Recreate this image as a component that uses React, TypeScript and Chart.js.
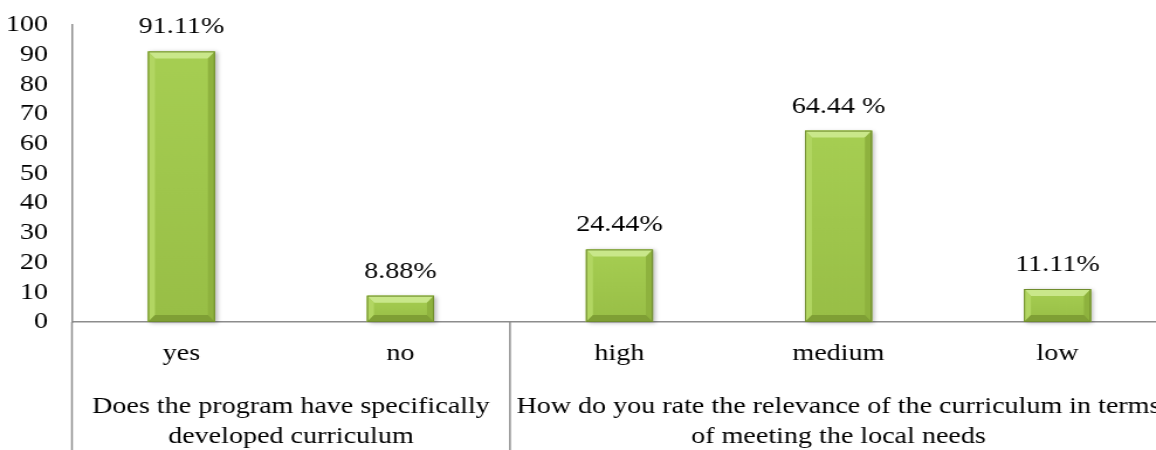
import React, { useEffect, useRef } from "react";
import { Chart, registerables } from "chart.js";

Chart.register(...registerables);

// ---- data ----
const categories = ["yes", "no", "high", "medium", "low"];
const values = [91.11, 8.88, 24.44, 64.44, 11.11];
const valueLabels = ["91.11%", "8.88%", "24.44%", "64.44 %", "11.11%"];
const groupSizes = [2, 3];
const groupLines = [
  ["Does the program have specifically", "developed curriculum"],
  ["How do you rate the relevance of the curriculum in terms", "of meeting the local needs"],
];
const yMin = 0;
const yMax = 100;
const yStep = 10;

// ---- layout / style ----
const STRETCH = 1.17;
const CANVAS_W = 1010;
const CANVAS_H = 450;
const FONT_FAMILY = '"Liberation Serif", "Times New Roman", serif';
const FONT_SIZE = 24;
const AXIS_COLOR = "#8c8c8c";
const FACE = "#A2C94E";

const bevelPlugin = {
  id: "bevelBars",
  afterDatasetsDraw(chart: any) {
    const ctx = chart.ctx;
    const meta = chart.getDatasetMeta(0);
    meta.data.forEach((el: any) => {
      const p = el.getProps(["x", "y", "base", "width"], true);
      const l = p.x - p.width / 2;
      const r = p.x + p.width / 2;
      const t = Math.min(p.y, p.base);
      const b = Math.max(p.y, p.base);
      const bx = 6;
      const by = 7;
      ctx.save();
      ctx.shadowColor = "rgba(0,0,0,0.28)";
      ctx.shadowBlur = 4;
      ctx.shadowOffsetX = 2;
      ctx.shadowOffsetY = 1;
      const g = ctx.createLinearGradient(0, t, 0, b);
      g.addColorStop(0, "#A6CE52");
      g.addColorStop(1, "#98BE46");
      ctx.fillStyle = g;
      ctx.fillRect(l, t, r - l, b - t);
      ctx.shadowColor = "transparent";
      ctx.shadowBlur = 0;
      ctx.shadowOffsetX = 0;
      ctx.shadowOffsetY = 0;
      const poly = (pts: number[][], color: string) => {
        ctx.beginPath();
        ctx.moveTo(pts[0][0], pts[0][1]);
        for (let i = 1; i < pts.length; i++) ctx.lineTo(pts[i][0], pts[i][1]);
        ctx.closePath();
        ctx.fillStyle = color;
        ctx.fill();
      };
      poly([[l, t], [r, t], [r - bx, t + by], [l + bx, t + by]], "#C9E78A");
      poly([[l, t], [l + bx, t + by], [l + bx, b - by], [l, b]], "#B2D662");
      poly([[r, t], [r - bx, t + by], [r - bx, b - by], [r, b]], "#8EB23E");
      poly([[l, b], [l + bx, b - by], [r - bx, b - by], [r, b]], "#7F9F35");
      ctx.strokeStyle = "#6F8C2D";
      ctx.lineWidth = 1;
      ctx.strokeRect(l + 0.5, t + 0.5, r - l - 1, b - t - 1);
      ctx.restore();
    });
    ctx.save();
    ctx.font = `${FONT_SIZE}px ${FONT_FAMILY}`;
    ctx.fillStyle = "#000";
    ctx.textAlign = "center";
    ctx.textBaseline = "alphabetic";
    meta.data.forEach((el: any, i: number) => {
      const p = el.getProps(["x", "y"], true);
      ctx.fillText(valueLabels[i], p.x, p.y - 18);
    });
    ctx.restore();
  },
};

const groupPlugin = {
  id: "groupAxis",
  afterDraw(chart: any) {
    const ctx = chart.ctx;
    const xs = chart.scales.x;
    const area = chart.chartArea;
    const half = (xs.getPixelForValue(1) - xs.getPixelForValue(0)) / 2;
    ctx.save();
    ctx.strokeStyle = AXIS_COLOR;
    ctx.lineWidth = 1.5;
    ctx.font = `${FONT_SIZE}px ${FONT_FAMILY}`;
    ctx.fillStyle = "#000";
    ctx.textAlign = "center";
    ctx.textBaseline = "alphabetic";
    let start = 0;
    const drawLine = (x: number) => {
      ctx.beginPath();
      ctx.moveTo(x, area.bottom);
      ctx.lineTo(x, chart.height);
      ctx.stroke();
    };
    groupSizes.forEach((n, gi) => {
      const x0 = xs.getPixelForValue(start) - half;
      const x1 = xs.getPixelForValue(start + n - 1) + half;
      drawLine(x0);
      if (gi === groupSizes.length - 1) drawLine(x1);
      const cx = (x0 + x1) / 2;
      groupLines[gi].forEach((line, li) => {
        ctx.fillText(line, cx, area.bottom + 91 + li * 30);
      });
      start += n;
    });
    ctx.restore();
  },
};

export default function App() {
  const ref = useRef<HTMLCanvasElement>(null);
  useEffect(() => {
    if (!ref.current) return;
    const chart = new Chart(ref.current, {
      type: "bar",
      data: {
        labels: categories,
        datasets: [
          {
            data: values,
            backgroundColor: FACE,
            borderWidth: 0,
            categoryPercentage: 1,
            barPercentage: 0.306,
          },
        ],
      },
      options: {
        animation: false,
        responsive: false,
        devicePixelRatio: 1,
        layout: { padding: { top: 25, right: 12.6, bottom: 0, left: 0 } },
        plugins: {
          legend: { display: false },
          tooltip: { enabled: false },
          title: { display: false },
        },
        scales: {
          x: {
            grid: { display: false, drawTicks: false },
            border: { display: true, color: AXIS_COLOR, width: 1.5 },
            ticks: {
              color: "#000",
              font: { family: FONT_FAMILY, size: FONT_SIZE },
              padding: 17,
              maxRotation: 0,
              autoSkip: false,
            },
            afterFit: (s: any) => {
              s.height = 128;
            },
          },
          y: {
            min: yMin,
            max: yMax,
            grid: { display: false, drawTicks: false },
            border: { display: true, color: AXIS_COLOR, width: 1.5 },
            ticks: {
              stepSize: yStep,
              autoSkip: false,
              color: "#000",
              font: { family: FONT_FAMILY, size: FONT_SIZE },
              padding: 20.5,
            },
            afterFit: (s: any) => {
              s.width = 61.5;
              s.paddingTop = 0;
              s.paddingBottom = 0;
            },
          },
        },
      },
      plugins: [bevelPlugin, groupPlugin],
    });
    return () => chart.destroy();
  }, []);
  return (
    <div
      style={{
        position: "fixed",
        left: 0,
        top: 0,
        width: 1156,
        height: CANVAS_H,
        overflow: "hidden",
        background: "#fff",
      }}
    >
      <div style={{ transform: `scaleX(${STRETCH})`, transformOrigin: "0 0", width: CANVAS_W, height: CANVAS_H }}>
        <canvas
          ref={ref}
          width={CANVAS_W}
          height={CANVAS_H}
          style={{ width: CANVAS_W, height: CANVAS_H, display: "block" }}
        />
      </div>
    </div>
  );
}
